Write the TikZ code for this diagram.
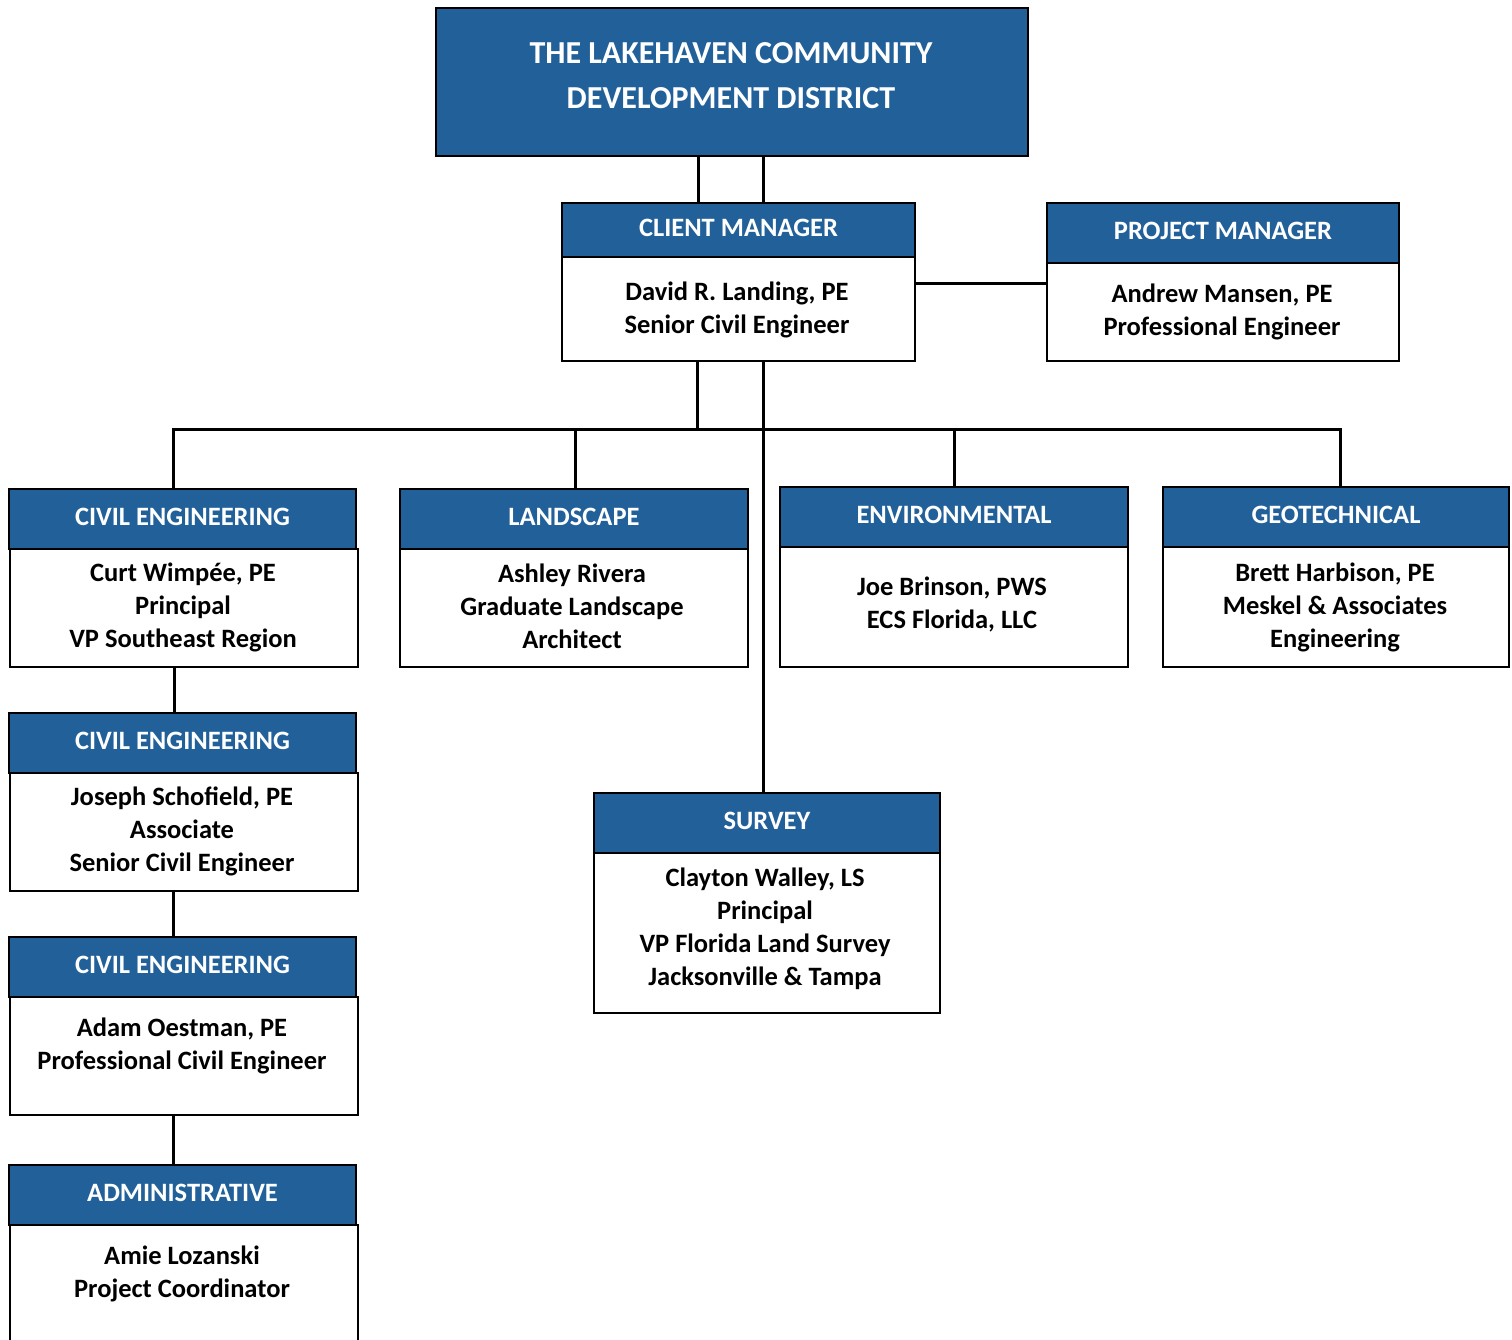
\documentclass[tikz,border=0pt]{standalone}
\usepackage{fontspec}
\setmainfont{Carlito}
\definecolor{hdrblue}{RGB}{34,96,154}
\tikzset{
  hdr/.style={draw=black, line width=2pt, fill=hdrblue, text=white, anchor=north west, inner sep=0pt,
    text depth=4pt, font=\fontsize{26.5}{30}\selectfont\bfseries},
  bodybox/.style={draw=black, line width=1.8pt, fill=white, anchor=north west, inner sep=0pt},
  txt/.style={align=center, inner sep=0pt, font=\fontsize{26.5}{33}\selectfont\bfseries},
  conn/.style={draw=black, line width=3pt},
}
\begin{document}
\begin{tikzpicture}[x=1pt,y=-1pt]
\useasboundingbox (0,0) rectangle (1512,1340);
\begin{scope}
\clip (0,0) rectangle (1512,1340);
% title
\node[hdr, minimum width=592pt, minimum height=148pt] (top) at (435,7) {};
\node[txt, text=white, font=\fontsize{32}{45}\selectfont\bfseries] (topt) at (731,76)
  {THE LAKEHAVEN COMMUNITY\\DEVELOPMENT DISTRICT};
% client manager
\node[bodybox, minimum width=353pt, minimum height=104pt] (cmb) at (561,256) {};
\node[hdr, minimum width=353pt, minimum height=54pt] (cmh) at (561,202) {CLIENT MANAGER};
\node[txt] (cmt) at (737,310) {David R. Landing, PE\\Senior Civil Engineer};
% project manager
\node[bodybox, minimum width=352pt, minimum height=98pt] (pmb) at (1046,262) {};
\node[hdr, minimum width=352pt, minimum height=60pt] (pmh) at (1046,202) {PROJECT MANAGER};
\node[txt] (pmt) at (1222,312) {Andrew Mansen, PE\\Professional Engineer};
% civil 1
\node[bodybox, minimum width=348pt, minimum height=118pt] (c1b) at (9,548) {};
\node[hdr, minimum width=347pt, minimum height=60pt] (c1h) at (8,488) {CIVIL ENGINEERING};
\node[txt] (c1t) at (183,607) {Curt Wimpée, PE\\Principal\\VP Southeast Region};
% landscape
\node[bodybox, minimum width=348pt, minimum height=118pt] (lsb) at (399,548) {};
\node[hdr, minimum width=348pt, minimum height=60pt] (lsh) at (399,488) {LANDSCAPE};
\node[txt] (lst) at (572,606) {Ashley Rivera\\Graduate Landscape\\Architect};
% environmental
\node[bodybox, minimum width=348pt, minimum height=120pt] (envb) at (779,546) {};
\node[hdr, minimum width=348pt, minimum height=60pt] (envh) at (779,486) {ENVIRONMENTAL};
\node[txt] (envt) at (952,604) {Joe Brinson, PWS\\ECS Florida, LLC};
% geotechnical
\node[bodybox, minimum width=346pt, minimum height=120pt] (geob) at (1162,546) {};
\node[hdr, minimum width=346pt, minimum height=60pt] (geoh) at (1162,486) {GEOTECHNICAL};
\node[txt] (geot) at (1335,607) {Brett Harbison, PE\\Meskel \& Associates\\Engineering};
% civil 2
\node[bodybox, minimum width=348pt, minimum height=118pt] (c2b) at (9,772) {};
\node[hdr, minimum width=347pt, minimum height=60pt] (c2h) at (8,712) {CIVIL ENGINEERING};
\node[txt] (c2t) at (182,831) {Joseph Schofield, PE\\Associate\\Senior Civil Engineer};
% civil 3
\node[bodybox, minimum width=348pt, minimum height=118pt] (c3b) at (9,996) {};
\node[hdr, minimum width=347pt, minimum height=60pt] (c3h) at (8,936) {CIVIL ENGINEERING};
\node[txt] (c3t) at (182,1046) {Adam Oestman, PE\\Professional Civil Engineer};
% administrative
\node[bodybox, minimum width=348pt, minimum height=140pt] (adb) at (9,1224) {};
\node[hdr, minimum width=347pt, minimum height=60pt] (adh) at (8,1164) {ADMINISTRATIVE};
\node[txt] (adt) at (182,1274) {Amie Lozanski\\Project Coordinator};
% survey
\node[bodybox, minimum width=346pt, minimum height=160pt] (svb) at (593,852) {};
\node[hdr, minimum width=346pt, minimum height=60pt] (svh) at (593,792) {SURVEY};
\node[txt] (svt) at (765,929) {Clayton Walley, LS\\Principal\\VP Florida Land Survey\\Jacksonville \& Tampa};
% connectors
\coordinate (jl) at (173,429);
\coordinate (jm) at (697,429);
\coordinate (jr) at (1340,429);
\draw[conn] (top.south -| 698,0) -- (cmh.north -| 698,0);
\draw[conn] (top.south -| 763,0) -- (cmh.north -| 763,0);
\draw[conn] (cmb.east |- 0,284) -- (pmb.west |- 0,284);
\draw[conn] (cmb.south -| jm) -- (jm);
\draw[conn, line cap=rect] (jl) -- (jr);
\draw[conn] (cmb.south -| 763,0) -- (svh.north -| 763,0);
\draw[conn] (jl) -- (c1h.north -| jl);
\draw[conn] (575,429) -- (lsh.north -| 575,0);
\draw[conn] (954,429) -- (envh.north -| 954,0);
\draw[conn] (jr) -- (geoh.north -| jr);
\draw[conn] (c1b.south -| 174,0) -- (c2h.north -| 174,0);
\draw[conn] (c2b.south -| 173,0) -- (c3h.north -| 173,0);
\draw[conn] (c3b.south -| 173,0) -- (adh.north -| 173,0);
\end{scope}
\end{tikzpicture}
\end{document}
